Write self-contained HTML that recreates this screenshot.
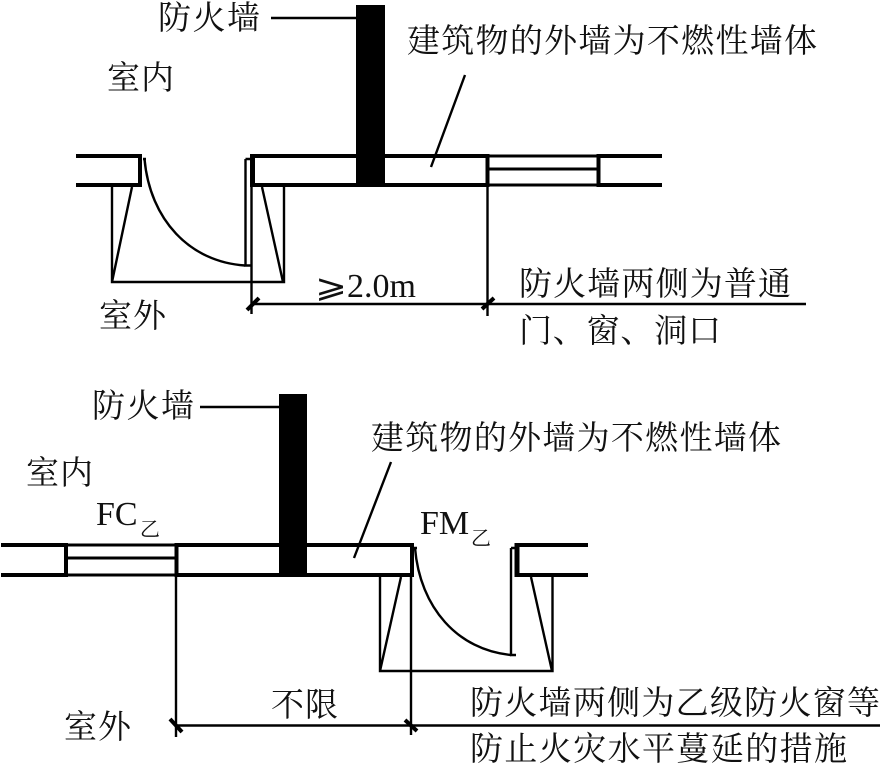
<!DOCTYPE html>
<html><head><meta charset="utf-8">
<style>
html,body{margin:0;padding:0;background:#fff}
svg{display:block}
text{font-family:"Liberation Serif","Noto Serif CJK SC",serif;fill:#111}
.c{font-size:33px}
.l{font-size:34px;font-family:"Liberation Serif",serif}
</style></head><body>
<svg width="880" height="763" viewBox="0 0 880 763" xmlns="http://www.w3.org/2000/svg">
<rect width="880" height="763" fill="#fff"/>
<g fill="none" stroke="#000" stroke-linecap="butt">
<!-- top diagram -->
<g stroke-width="4">
<path d="M76 156H142M76 185H142M252 156H487M252 185H487M598 156H662M598 185H662"/>
<path d="M140 154V187M487.5 154V187M598.5 154V187"/>
</g>
<path d="M252.5 154V187" stroke-width="5"/>
<path d="M487 156H598M487 185H598M487 169H598" stroke-width="3"/>
<rect x="356" y="5" width="29" height="181" fill="#000" stroke="none"/>
<g stroke-width="2.4">
<path d="M112 187V282H284V187M112 282L132 187M283 282L262 187"/>
<path d="M245.500 159V265.500H251M245.500 159H251"/>
<path d="M143 159H146M144.500 159C150 220 190 262 245 265.500"/>
<path d="M251.500 186V314M487.500 186V316M251 304H806"/>
<path d="M271 18H356M465 75L431 167"/>
</g>
<path d="M247 310L259 298M482 309L494 298" stroke-width="4"/>
<!-- bottom diagram -->
<g stroke-width="4">
<path d="M1 545H66M1 575H66M176 545H412M176 575H412M516 545H588M516 575H588"/>
<path d="M66 543V577M176.500 543V577M412 543V577"/>
</g>
<path d="M517 543V577" stroke-width="5"/>
<path d="M66 545H176M66 575H176M66 558H176" stroke-width="3"/>
<rect x="279" y="394" width="28" height="182" fill="#000" stroke="none"/>
<g stroke-width="2.400">
<path d="M380 577V671H552.500V577M380 671L401 577M552 671L531 577"/>
<path d="M511 548V655H516M511 548H516"/>
<path d="M414 548H417M415 548C420 608 458 650 511 655"/>
<path d="M176 576V737M411 576V735M176 725.500H880"/>
<path d="M200 407H279M391 462L354 558"/>
</g>
<path d="M170 719L182 732M405 720L417 731" stroke-width="4"/>
</g>
<g>
<text class="c" x="158" y="29" textLength="102" lengthAdjust="spacing">防火墙</text>
<text class="c" x="407" y="52" textLength="410" lengthAdjust="spacing">建筑物的外墙为不燃性墙体</text>
<text class="c" x="107" y="89" textLength="67" lengthAdjust="spacing">室内</text>
<text class="c" x="99" y="327" textLength="67" lengthAdjust="spacing">室外</text>
<text x="315" y="297" style="font-family:'DejaVu Sans',sans-serif;font-size:32px" textLength="32" lengthAdjust="spacingAndGlyphs">⩾</text>
<text class="l" x="347" y="297">2.0m</text>
<text class="c" x="519" y="295" textLength="272" lengthAdjust="spacing">防火墙两侧为普通</text>
<text class="c" x="519" y="342" textLength="202" lengthAdjust="spacing">门、窗、洞口</text>
<text class="c" x="92" y="417" textLength="102" lengthAdjust="spacing">防火墙</text>
<text class="c" x="371" y="449" textLength="410" lengthAdjust="spacing">建筑物的外墙为不燃性墙体</text>
<text class="c" x="26" y="484" textLength="67" lengthAdjust="spacing">室内</text>
<text class="l" x="96" y="525">FC</text>
<text class="c" x="140" y="536" style="font-size:20px">乙</text>
<text class="l" x="420" y="534">FM</text>
<text class="c" x="471" y="545" style="font-size:20px">乙</text>
<text class="c" x="271" y="716" textLength="67" lengthAdjust="spacing">不限</text>
<text class="c" x="64" y="738" textLength="67" lengthAdjust="spacing">室外</text>
<text class="c" x="470" y="714" textLength="410" lengthAdjust="spacing">防火墙两侧为乙级防火窗等</text>
<text class="c" x="470" y="760" textLength="377" lengthAdjust="spacing">防止火灾水平蔓延的措施</text>
</g>
</svg>
</body></html>
